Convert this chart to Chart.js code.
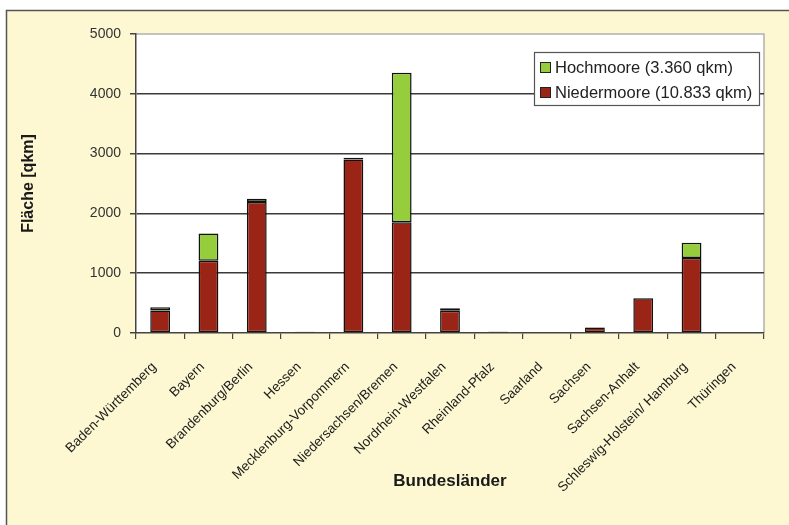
<!DOCTYPE html>
<html>
<head>
<meta charset="utf-8">
<script src="https://cdn.jsdelivr.net/npm/chart.js@4.4.1/dist/chart.umd.min.js"></script>
<style>
  html, body { margin: 0; padding: 0; background: #fff; }
  #wrap { width: 789px; height: 525px; }
</style>
</head>
<body>
<div id="wrap"><canvas id="moorChart" width="789" height="525"></canvas></div>
<script>
// Bundesländer und Moorflächen in qkm
const laender = ['Baden-Württemberg', 'Bayern', 'Brandenburg/Berlin', 'Hessen', 'Mecklenburg-Vorpommern',
  'Niedersachsen/Bremen', 'Nordrhein-Westfalen', 'Rheinland-Pfalz', 'Saarland', 'Sachsen',
  'Sachsen-Anhalt', 'Schleswig-Holstein/ Hamburg', 'Thüringen'];
const niedermoore = [375, 1210, 2190, 15, 2900, 1850, 370, 20, 0, 90, 580, 1255, 0];
const hochmoore = [55, 455, 55, 5, 30, 2500, 45, 5, 0, 5, 5, 255, 0];
const yTicks = [0, 1000, 2000, 3000, 4000, 5000];

const fontFam = '"Liberation Sans", Arial, sans-serif';

// Hintergrund: gelber Rahmen, weisse Zeichenflaeche
const backgroundPlugin = {
  id: 'bg',
  beforeDraw(chart) {
    const c = chart.ctx, a = chart.chartArea;
    c.save();
    c.fillStyle = '#ffffff';
    c.fillRect(0, 0, chart.width, chart.height);
    c.fillStyle = '#fdf8d2';
    c.fillRect(6, 10, chart.width - 6, chart.height - 10);
    c.strokeStyle = '#555555';
    c.lineWidth = 1.5;
    c.beginPath();
    c.moveTo(6.5, chart.height);
    c.lineTo(6.5, 10.5);
    c.lineTo(chart.width, 10.5);
    c.stroke();
    c.fillStyle = '#ffffff';
    c.fillRect(a.left, a.top, a.right - a.left, a.bottom - a.top);
    c.strokeStyle = '#b0b0b0';
    c.lineWidth = 1.5;
    c.beginPath();
    c.moveTo(a.left, a.top);
    c.lineTo(a.right, a.top);
    c.lineTo(a.right, a.bottom);
    c.stroke();
    c.restore();
  }
};

// Legende als Kasten oben rechts in der Zeichenflaeche
const boxLegendPlugin = {
  id: 'boxLegend',
  afterDatasetsDraw(chart) {
    const c = chart.ctx;
    const x = 534, y = 52, w = 225, h = 53;
    c.save();
    c.fillStyle = '#ffffff';
    c.fillRect(x, y, w, h);
    c.strokeStyle = '#555555';
    c.lineWidth = 1.2;
    c.strokeRect(x + 0.5, y + 0.5, w, h);
    c.font = '16.5px ' + fontFam;
    c.textBaseline = 'middle';
    const items = [chart.data.datasets[1], chart.data.datasets[0]];
    items.forEach((ds, i) => {
      const cy = y + 15 + i * 25;
      c.fillStyle = ds.backgroundColor;
      c.fillRect(x + 6, cy - 5, 11, 11);
      c.strokeStyle = '#222';
      c.lineWidth = 1;
      c.strokeRect(x + 6.5, cy - 4.5, 10, 10);
      c.fillStyle = '#222';
      c.fillText(ds.label, x + 21, cy + 1);
    });
    c.restore();
  }
};

const ctx = document.getElementById('moorChart').getContext('2d');
const moorChart = new Chart(ctx, {
  type: 'bar',
  data: {
    labels: laender,
    datasets: [
      {
        label: 'Niedermoore (10.833 qkm)',
        data: niedermoore,
        backgroundColor: '#9a2416',
        borderColor: '#111111',
        borderWidth: 1.5,
        borderSkipped: false,
        barPercentage: 0.41,
        categoryPercentage: 1
      },
      {
        label: 'Hochmoore (3.360 qkm)',
        data: hochmoore,
        backgroundColor: '#96cd3c',
        borderColor: '#111111',
        borderWidth: 1.5,
        borderSkipped: false,
        barPercentage: 0.41,
        categoryPercentage: 1
      }
    ]
  },
  options: {
    responsive: false,
    animation: false,
    layout: { padding: { left: 15, top: 34, right: 25, bottom: 29 } },
    plugins: {
      legend: { display: false },
      tooltip: { enabled: false }
    },
    scales: {
      x: {
        stacked: true,
        afterFit(scale) { scale.height = 163; },
        grid: {
          drawOnChartArea: false,
          color: '#444',
          tickLength: 6,
          lineWidth: 1.2
        },
        border: { color: '#444', width: 1.5 },
        ticks: {
          minRotation: 45,
          maxRotation: 45,
          autoSkip: false,
          padding: 20,
          labelOffset: -6,
          color: '#1a1a1a',
          font: { family: fontFam, size: 13.5 }
        },
        title: {
          display: true,
          text: 'Bundesländer',
          color: '#1a1a1a',
          font: { family: fontFam, size: 17, weight: 'bold' }
        }
      },
      y: {
        stacked: true,
        min: 0,
        max: 5000,
        afterFit(scale) { scale.width = 121; },
        afterBuildTicks(scale) { scale.ticks = yTicks.map(v => ({ value: v })); },
        grid: {
          color: ctx => (ctx.tick && (ctx.tick.value === 0 || ctx.tick.value === 5000)) ? 'rgba(0,0,0,0)' : '#3a3a3a',
          lineWidth: 1.5,
          tickLength: 6,
          tickColor: '#444'
        },
        border: { color: '#444', width: 1.5 },
        ticks: {
          padding: 9,
          color: '#333',
          font: { family: fontFam, size: 14 },
          callback: v => String(v)
        },
        title: {
          display: true,
          text: 'Fläche [qkm]',
          color: '#1a1a1a',
          font: { family: fontFam, size: 16, weight: 'bold' }
        }
      }
    }
  },
  plugins: [backgroundPlugin, boxLegendPlugin]
});
</script>
</body>
</html>
